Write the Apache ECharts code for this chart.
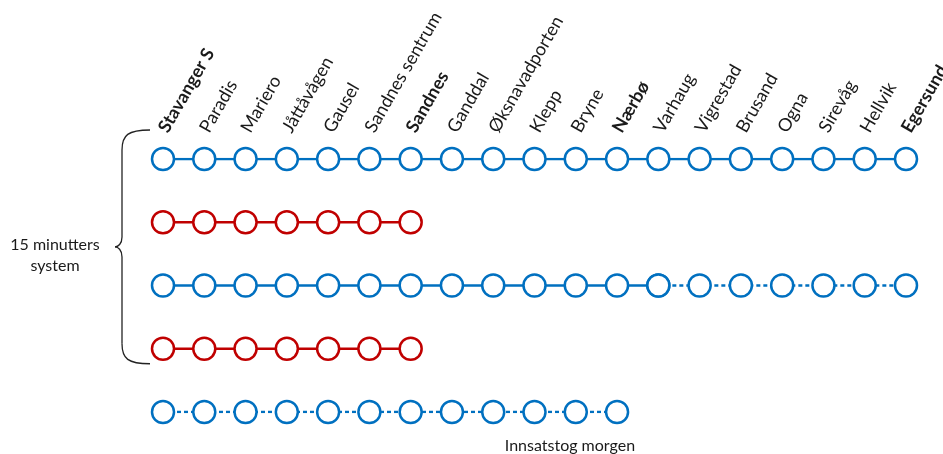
<!DOCTYPE html>
<html>
<head>
<meta charset="utf-8">
<script src="https://cdn.jsdelivr.net/npm/echarts@6/dist/echarts.min.js"></script>
<style>
html,body{margin:0;padding:0;background:#fff;}
#chart{width:943px;height:454px;}
</style>
</head>
<body>
<div id="chart"></div>
<script>
// ---- data ----
const stations = ['Stavanger S','Paradis','Mariero','Jåttåvågen','Gausel','Sandnes sentrum','Sandnes','Ganddal','Øksnavadporten','Klepp','Bryne','Nærbø','Varhaug','Vigrestad','Brusand','Ogna','Sirevåg','Hellvik','Egersund'];
const majorStations = ['Stavanger S','Sandnes','Nærbø','Egersund'];
const rows = ['rute1','rute2','rute3','rute4','rute5'];
// each service: [first stop, last stop]
const row1Solid  = ['Stavanger S','Egersund'];
const row2Solid  = ['Stavanger S','Sandnes'];
const row3Solid  = ['Stavanger S','Varhaug'];
const row3Dashed = ['Varhaug','Egersund'];
const row4Solid  = ['Stavanger S','Sandnes'];
const row5Dashed = ['Stavanger S','Nærbø'];
const groupLabel = '15 minutters\nsystem';
const extraLabel = 'Innsatstog morgen';

// ---- styles ----
const BLUE = '#0070C0', RED = '#C00000', TXT = '#1a1a1a';
const FONT = 'Lato, "Open Sans", sans-serif';

function stops(span, row){
  const a = stations.indexOf(span[0]), b = stations.indexOf(span[1]);
  return stations.slice(a, b + 1).map(s => [s, row]);
}
function svc(span, row, color, dashed){
  return {
    type: 'line',
    data: stops(span, row),
    symbol: 'circle',
    symbolSize: 22,
    showSymbol: true,
    showAllSymbol: true,
    itemStyle: {color: '#fff', borderColor: color, borderWidth: 2.5},
    lineStyle: {color: color, width: 2.5, type: dashed ? [4, 3] : 'solid'},
    emphasis: {disabled: true},
    silent: true,
    z: 2
  };
}

const chart = echarts.init(document.getElementById('chart'));
chart.setOption({
  animation: false,
  backgroundColor: '#fff',
  grid: {left: 163, right: 37, top: 159, bottom: 42, outerBoundsMode: 'none', containLabel: false},
  xAxis: {
    type: 'category',
    position: 'top',
    data: stations,
    boundaryGap: false,
    axisLine: {show: false},
    axisTick: {show: false},
    splitLine: {show: false},
    axisLabel: {
      interval: 0,
      rotate: -60,
      margin: 28,
      fontFamily: FONT,
      fontSize: 18,
      color: TXT,
      hideOverlap: false,
      formatter: v => majorStations.includes(v) ? '{b|' + v + '}' : v,
      rich: {b: {fontWeight: 'bold', fontFamily: FONT, fontSize: 18, color: TXT}}
    }
  },
  yAxis: {
    type: 'category',
    data: rows,
    inverse: true,
    boundaryGap: false,
    show: false
  },
  series: [
    svc(row1Solid, rows[0], BLUE, false),
    svc(row2Solid, rows[1], RED, false),
    svc(row3Solid, rows[2], BLUE, false),
    svc(row3Dashed, rows[2], BLUE, true),
    svc(row4Solid, rows[3], RED, false),
    svc(row5Dashed, rows[4], BLUE, true)
  ]
});

// decorations positioned from the axes
const p0 = chart.convertToPixel({gridIndex: 0}, [stations[0], rows[0]]);
const p3 = chart.convertToPixel({gridIndex: 0}, [stations[0], rows[3]]);
const p5 = chart.convertToPixel({gridIndex: 0}, [row5Dashed[1], rows[4]]);
const bTop = p0[1] - 29, bBot = p3[1] + 15, bMid = (bTop + bBot) / 2;
const xEnd = p0[0] - 13, xLine = p0[0] - 41, xTip = p0[0] - 48;
const br = {stroke: '#222', lineWidth: 1.3, fill: null};
chart.setOption({
  graphic: [
    {type: 'bezierCurve', silent: true, shape: {x1: xEnd, y1: bTop, cpx1: xLine + 6, cpy1: bTop, cpx2: xLine, cpy2: bTop + 5, x2: xLine, y2: bTop + 20}, style: br},
    {type: 'line', silent: true, shape: {x1: xLine, y1: bTop + 20, x2: xLine, y2: bMid - 10}, style: br},
    {type: 'bezierCurve', silent: true, shape: {x1: xLine, y1: bMid - 10, cpx1: xLine, cpy1: bMid - 3, cpx2: xTip + 3, cpy2: bMid, x2: xTip, y2: bMid}, style: br},
    {type: 'bezierCurve', silent: true, shape: {x1: xTip, y1: bMid, cpx1: xTip + 3, cpy1: bMid, cpx2: xLine, cpy2: bMid + 3, x2: xLine, y2: bMid + 10}, style: br},
    {type: 'line', silent: true, shape: {x1: xLine, y1: bMid + 10, x2: xLine, y2: bBot - 20}, style: br},
    {type: 'bezierCurve', silent: true, shape: {x1: xLine, y1: bBot - 20, cpx1: xLine, cpy1: bBot - 5, cpx2: xLine + 6, cpy2: bBot, x2: xEnd, y2: bBot}, style: br},
    {type: 'text', silent: true, x: 55, y: bMid + 8,
     style: {text: groupLabel, fontFamily: FONT, fontSize: 16, fill: TXT, align: 'center', verticalAlign: 'middle', lineHeight: 21}},
    {type: 'text', silent: true, x: p5[0] + 18, y: p5[1] + 34,
     style: {text: extraLabel, fontFamily: FONT, fontSize: 16, fill: TXT, align: 'right', verticalAlign: 'middle'}}
  ]
});
</script>
</body>
</html>
